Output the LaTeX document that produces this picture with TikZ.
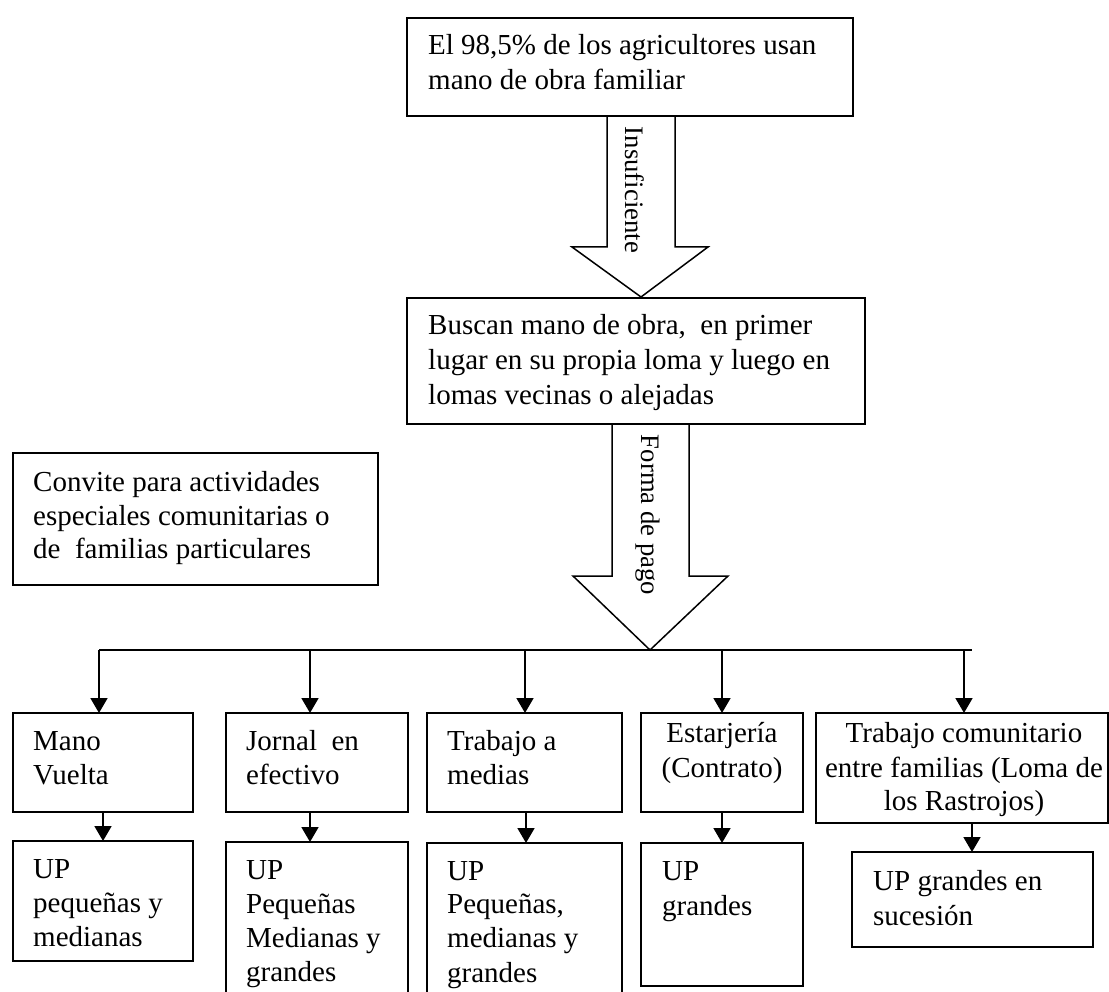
\documentclass[tikz,border=0pt]{standalone}
\usepackage{fontspec}
\setmainfont{Liberation Serif}
\usetikzlibrary{arrows.meta,calc}

\begin{document}
\begin{tikzpicture}[x=1pt,y=-1pt,
  box/.style={draw, line width=1.8pt, inner sep=0pt, outer sep=0pt, anchor=north west},
  thinbox/.style={box, line width=1.2pt},
  txt/.style={inner sep=0pt, anchor=base west, font=\fontsize{29}{34}\selectfont},
  ctxt/.style={txt, anchor=base},
  vtxt/.style={inner sep=0pt, rotate=-90, font=\fontsize{26.7}{32}\selectfont},
  link/.style={line width=1.8pt},
  arr/.style={link, -{Triangle[length=15pt,width=17pt]}},
  blockarrow/.style={line width=1.5pt, line join=miter}
]
\useasboundingbox (0,0) rectangle (1109,992);

% main chain
\node[box, minimum width=446pt, minimum height=98pt] (A) at (407,18) {};
\node[txt] (tA1) at (428,55) {El 98,5\% de los agricultores usan};
\node[txt] (tA2) at (428,90) {mano de obra familiar};

\node[box, minimum width=458pt, minimum height=126pt] (B) at (407,298) {};
\node[txt] (tB1) at (428,335) {Buscan mano de obra,~ en primer};
\node[txt] (tB2) at (428,370) {lugar en su propia loma y luego en};
\node[txt] (tB3) at (428,404) {lomas vecinas o alejadas};

% side note
\node[box, minimum width=365pt, minimum height=132pt] (C) at (13,453) {};
\node[txt] (tC1) at (33,491) {Convite para actividades};
\node[txt] (tC2) at (33,525) {especiales comunitarias o};
\node[txt] (tC3) at (33,558) {de~ familias particulares};

% block arrows
\coordinate (a1) at (641,116);
\draw[blockarrow] ($(a1)+(-34,0)$) -- ($(a1)+(-34,131)$) -- ($(a1)+(-69,131)$)
  -- (641,297) -- ($(a1)+(67,131)$) -- ($(a1)+(34,131)$) -- ($(a1)+(34,0)$);
\node[vtxt] (vA) at (635,190) {Insuficiente};

\coordinate (a2) at (650.5,424);
\draw[blockarrow] ($(a2)+(-38.5,0)$) -- ($(a2)+(-38.5,152)$) -- ($(a2)+(-77.5,152)$)
  -- (650,650) -- ($(a2)+(77.5,152)$) -- ($(a2)+(38.5,152)$) -- ($(a2)+(38.5,0)$);
\node[vtxt] (vB) at (648,515) {Forma de pago};

% payment forms
\node[box, minimum width=180pt, minimum height=99pt] (R1) at (13,713) {};
\node[txt] (tR1a) at (33,750) {Mano};
\node[txt] (tR1b) at (33,784) {Vuelta};

\node[box, minimum width=182pt, minimum height=99pt] (R2) at (226,713) {};
\node[txt] (tR2a) at (246,750) {Jornal~ en};
\node[txt] (tR2b) at (246,784) {efectivo};

\node[box, minimum width=195pt, minimum height=99pt] (R3) at (427,713) {};
\node[txt] (tR3a) at (447,750) {Trabajo a};
\node[txt] (tR3b) at (447,784) {medias};

\node[box, minimum width=162pt, minimum height=99pt] (R4) at (641,713) {};
\node[ctxt] (tR4a) at (722,742) {Estarjería};
\node[ctxt] (tR4b) at (722,777) {(Contrato)};

\node[box, minimum width=292pt, minimum height=110pt] (R5) at (816,713) {};
\node[ctxt] (tR5a) at (964,742) {Trabajo comunitario};
\node[ctxt] (tR5b) at (964,777) {entre familias (Loma de};
\node[ctxt] (tR5c) at (964,810) {los Rastrojos)};

% production units
\node[box, minimum width=180pt, minimum height=120pt] (S1) at (13,841) {};
\node[txt] (tS1a) at (33,878) {UP};
\node[txt] (tS1b) at (33,912) {pequeñas y};
\node[txt] (tS1c) at (33,946) {medianas};

\node[box, minimum width=182pt, minimum height=170pt] (S2) at (226,842) {};
\node[txt] (tS2a) at (246,879) {UP};
\node[txt] (tS2b) at (246,913) {Pequeñas};
\node[txt] (tS2c) at (246,947) {Medianas y};
\node[txt] (tS2d) at (246,981) {grandes};

\node[box, minimum width=195pt, minimum height=170pt] (S3) at (427,843) {};
\node[txt] (tS3a) at (447,880) {UP};
\node[txt] (tS3b) at (447,913) {Pequeñas,};
\node[txt] (tS3c) at (447,947) {medianas y};
\node[txt] (tS3d) at (447,982) {grandes};

\node[thinbox, minimum width=162pt, minimum height=143pt] (S4) at (641,843) {};
\node[txt] (tS4a) at (662,880) {UP};
\node[txt] (tS4b) at (662,915) {grandes};

\node[box, minimum width=241pt, minimum height=95pt] (S5) at (852,852) {};
\node[txt] (tS5a) at (873,890) {UP grandes en};
\node[txt] (tS5b) at (873,925) {sucesión};

% distribution bus
\coordinate (busL) at (99,650);
\coordinate (busR) at (972,650);
\draw[link] (busL) -- (busR);
\coordinate (b1) at (99,650);
\coordinate (b2) at (310,650);
\coordinate (b3) at (525,650);
\coordinate (b4) at (722,650);
\coordinate (b5) at (964,650);
\draw[arr] (b1) -- (b1 |- R1.north);
\draw[arr] (b2) -- (b2 |- R2.north);
\draw[arr] (b3) -- (b3 |- R3.north);
\draw[arr] (b4) -- (b4 |- R4.north);
\draw[arr] (b5) -- (b5 |- R5.north);

% form -> unit size
\coordinate (d1) at (103,0);
\coordinate (d2) at (310,0);
\coordinate (d3) at (526,0);
\coordinate (d4) at (722,0);
\coordinate (d5) at (972,0);
\draw[arr] (R1.south -| d1) -- (S1.north -| d1);
\draw[arr] (R2.south -| d2) -- (S2.north -| d2);
\draw[arr] (R3.south -| d3) -- (S3.north -| d3);
\draw[arr] (R4.south -| d4) -- (S4.north -| d4);
\draw[arr] (R5.south -| d5) -- (S5.north -| d5);
\end{tikzpicture}
\end{document}
